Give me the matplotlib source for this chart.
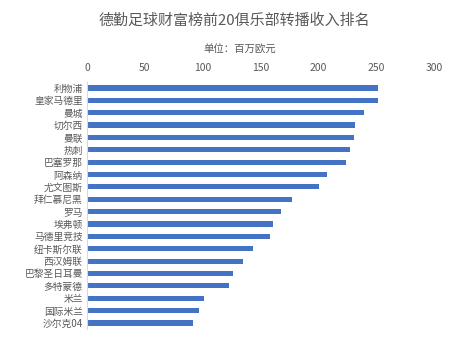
import matplotlib
matplotlib.use('Agg')
import matplotlib.pyplot as plt

plt.rcParams['font.family'] = ['Noto Sans CJK SC', 'DejaVu Sans']

# data, top to bottom
clubs = ['利物浦', '皇家马德里', '曼城', '切尔西', '曼联', '热刺', '巴塞罗那', '阿森纳',
         '尤文图斯', '拜仁慕尼黑', '罗马', '埃弗顿', '马德里竞技', '纽卡斯尔联', '西汉姆联',
         '巴黎圣日耳曼', '多特蒙德', '米兰', '国际米兰', '沙尔克04']
income = [251.5, 251.5, 239.4, 231.6, 230.8, 227.3, 223.9, 207.4, 200.5, 177.2,
          167.7, 160.8, 158.2, 143.5, 134.8, 126.2, 122.7, 101.1, 96.8, 91.6]
xticks = [0, 50, 100, 150, 200, 250, 300]

grey = '#595959'

fig = plt.figure(figsize=(4.75, 3.45), dpi=100)
ax = fig.add_axes([0.183, 0.046, 0.731, 0.717])

ypos = list(range(len(clubs)))
ax.barh(ypos, income, height=0.42, color='#4472C4')
ax.set_yticks(ypos)
ax.set_yticklabels(clubs, fontsize=7, color=grey)
ax.set_ylim(len(clubs) - 0.5, -0.5)

ax.set_xlim(0, 300)
ax.set_xticks(xticks)
ax.xaxis.tick_top()
ax.tick_params(axis='x', labelsize=7.5, colors=grey, length=0, pad=6)
ax.tick_params(axis='y', length=0, pad=3)

for s in ['top', 'right', 'bottom']:
    ax.spines[s].set_visible(False)
ax.spines['left'].set_color('#d9d9d9')

fig.text(0.494, 0.94, '德勤足球财富榜前20俱乐部转播收入排名', ha='center', va='center',
         fontsize=10.8, color=grey)
fig.text(0.504, 0.855, '单位：百万欧元', ha='center', va='center', fontsize=7.5, color=grey)

fig.savefig('out.png', dpi=100)
